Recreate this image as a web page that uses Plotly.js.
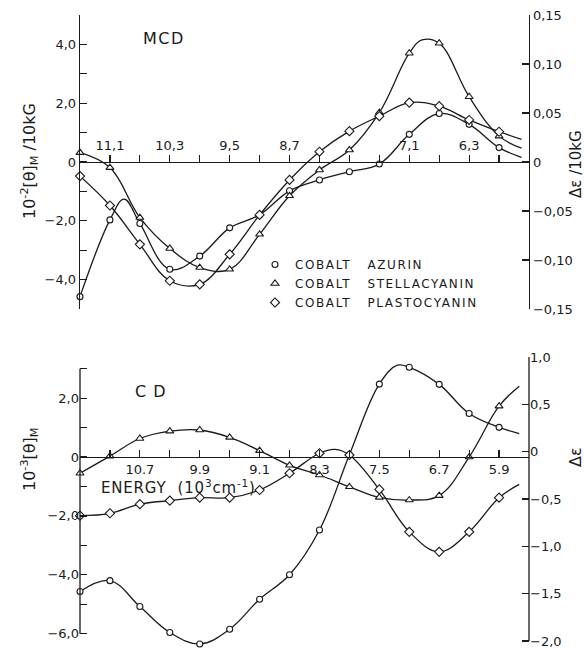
<!DOCTYPE html>
<html><head><meta charset="utf-8">
<script src="https://cdn.plot.ly/plotly-3.0.1.min.js"></script>
<style>html,body{margin:0;padding:0;background:#fff}#chart{width:584px;height:648px}</style>
</head><body><div id="chart"></div>
<script>
// Energy of the measured points (10^3 cm^-1)
const energy = [11.5, 11.1, 10.7, 10.3, 9.9, 9.5, 9.1, 8.7, 8.3, 7.9, 7.5, 7.1, 6.7, 6.3, 5.9];

// MCD panel, 10^-2 [theta]M / 10kG
const mcdAzurin        = [-4.58, -1.97, -2.09, -3.65, -3.20, -2.24, -1.80, -0.98, -0.61, -0.33, -0.07, 0.94, 1.65, 1.28, 0.49];
const mcdStellacyanin  = [0.32, -0.19, -1.89, -2.94, -3.59, -3.65, -2.46, -1.15, -0.27, 0.41, 1.68, 3.70, 4.04, 2.22, 0.88];
const mcdPlastocyanin  = [-0.48, -1.48, -2.80, -4.04, -4.16, -3.14, -1.80, -0.61, 0.35, 1.05, 1.56, 2.02, 1.90, 1.43, 1.03];
// extra points on the drawn MCD curves (peaks and curve ends, no symbol)
const mcdAzurinCurveE = [10.91, 5.6];  const mcdAzurinCurveV = [-1.26, 0.16];
const mcdStellaCurveE = [6.93, 5.6];   const mcdStellaCurveV = [4.15, 0.47];
const mcdPlastoCurveE = [5.6];         const mcdPlastoCurveV = [0.77];

// CD panel, 10^-3 [theta]M
const cdAzurin       = [-4.57, -4.20, -5.08, -5.96, -6.35, -5.85, -4.83, -4.00, -2.48, 0.08, 2.48, 3.05, 2.47, 1.48, 1.01];
const cdStellacyanin = [-0.55, 0.03, 0.63, 0.88, 0.92, 0.67, 0.22, -0.28, -0.61, -1.01, -1.37, -1.46, -1.31, 0.00, 1.73];
const cdPlastocyanin = [-1.99, -1.91, -1.60, -1.48, -1.38, -1.38, -1.12, -0.55, 0.13, 0.07, -1.10, -2.54, -3.22, -2.54, -1.38];
const cdAzurinCurveE = [7.26, 5.63];  const cdAzurinCurveV = [3.12, 0.80];
const cdStellaCurveE = [5.63];        const cdStellaCurveV = [2.41];
const cdPlastoCurveE = [8.09, 5.63];  const cdPlastoCurveV = [0.26, -0.93];

// tick values / labels
const energyTicks = [11.1, 10.7, 10.3, 9.9, 9.5, 9.1, 8.7, 8.3, 7.9, 7.5, 7.1, 6.7, 6.3, 5.9];
const mcdEnergyLabels = ["11,1", "", "10,3", "", "9,5", "", "8,7", "", "", "", "7,1", "", "6,3", ""];
const cdEnergyLabels  = ["", "10.7", "", "9.9", "", "9.1", "", "8.3", "", "7.5", "", "6.7", "", "5.9"];
const mcdLeftTicks  = [-5, -4, -3, -2, -1, 0, 1, 2, 3, 4, 5];
const mcdLeftLabels = ["", "\u22124,0", "", "\u22122,0", "", "0", "", "2,0", "", "4,0", ""];
const mcdRightTicks  = [-0.15, -0.10, -0.05, 0, 0.05, 0.10, 0.15];
const mcdRightLabels = ["\u22120,15", "\u22120,10", "\u22120,05", "0", "0,05", "0,10", "0,15"];
const cdLeftTicks  = [-6, -5, -4, -3, -2, -1, 0, 1, 2, 3];
const cdLeftLabels = ["\u22126,0", "", "\u22124,0", "", "\u22122,0", "", "0", "", "2,0", ""];
const cdRightTicks  = [-2.0, -1.5, -1.0, -0.5, 0, 0.5, 1.0];
const cdRightLabels = ["\u22122,0", "\u22121,5", "\u22121,0", "\u22120,5", "0", "0,5", "1,0"];

const seriesNames = ["COBALT\u00a0\u00a0\u00a0AZURIN", "COBALT\u00a0\u00a0\u00a0STELLACYANIN", "COBALT\u00a0\u00a0\u00a0PLASTOCYANIN"];

// ---------- layout geometry ----------
const W = 584, H = 648, L = 80, R = 55;
const PW = W - L - R;
const px = x => (x - L) / PW;
const py = y => 1 - y / H;
const topDomain = [py(309), py(15)];
const botDomain = [py(646), py(357)];
const mcdRange = [-5, 5];
const cdRange = [-6.42, 3.40];
const cdRightRange = [-2.053, 1.0];
const zeroPos = (dom, rng) => dom[0] + (dom[1] - dom[0]) * (0 - rng[0]) / (rng[1] - rng[0]);

const FONT = "DejaVu Sans, Liberation Sans, sans-serif";
const INK = "#1a1a1a";
const spaced = (t, s) => '<span style="letter-spacing:' + s + 'px">' + t + '</span>';

function merge(e, v, ce, cv) {
  const pts = e.map((x, i) => [x, v[i]]).concat(ce.map((x, i) => [x, cv[i]]));
  pts.sort((a, b) => b[0] - a[0]);
  return {x: pts.map(p => p[0]), y: pts.map(p => p[1])};
}

const symbols = ["circle", "triangle-up", "diamond"];
const sizes = [6, 7, 7];

function panelTraces(vals, curvesE, curvesV, xa, ya, legend) {
  const out = [];
  vals.forEach((v, i) => {
    const c = merge(energy, v, curvesE[i], curvesV[i]);
    out.push({x: c.x, y: c.y, xaxis: xa, yaxis: ya, mode: "lines", type: "scatter",
      line: {shape: "spline", smoothing: 1.1, color: INK, width: 1.3},
      showlegend: false, hoverinfo: "skip"});
  });
  vals.forEach((v, i) => {
    out.push({x: energy, y: v, xaxis: xa, yaxis: ya, mode: "markers", type: "scatter",
      name: spaced(seriesNames[i], 1.6), legendgroup: "g" + i, showlegend: legend, cliponaxis: false,
      marker: {symbol: symbols[i], size: sizes[i], color: "#fff", line: {color: INK, width: 1.1}}});
  });
  return out;
}

const traces = []
  .concat(panelTraces([mcdAzurin, mcdStellacyanin, mcdPlastocyanin],
    [mcdAzurinCurveE, mcdStellaCurveE, mcdPlastoCurveE],
    [mcdAzurinCurveV, mcdStellaCurveV, mcdPlastoCurveV], "x", "y", true))
  .concat(panelTraces([cdAzurin, cdStellacyanin, cdPlastocyanin],
    [cdAzurinCurveE, cdStellaCurveE, cdPlastoCurveE],
    [cdAzurinCurveV, cdStellaCurveV, cdPlastoCurveV], "x2", "y3", false));
// empty traces so the right-hand (delta epsilon) axes are drawn
traces.push({x: [], y: [], xaxis: "x", yaxis: "y2", type: "scatter", mode: "markers", showlegend: false});
traces.push({x: [], y: [], xaxis: "x2", yaxis: "y4", type: "scatter", mode: "markers", showlegend: false});

const tickFont = {family: FONT, size: 13, color: INK};
const axBase = {showgrid: false, zeroline: false, linecolor: INK, linewidth: 1.3,
  tickcolor: INK, tickwidth: 1.2, ticklen: 7, tickmode: "array", tickfont: tickFont,
  ticklabeloverflow: "allow", fixedrange: true};

const ann = (text, x, y, size, angle) => ({text: text, xref: "paper", yref: "paper",
  x: px(x), y: py(y), xanchor: "center", yanchor: "middle", showarrow: false, textangle: angle || 0,
  font: {size: size, family: FONT, color: INK}});

const layout = {
  width: W, height: H,
  margin: {l: L, r: R, t: 0, b: 0, pad: 0},
  paper_bgcolor: "#fff", plot_bgcolor: "rgba(0,0,0,0)",
  font: {family: FONT, color: INK},
  showlegend: true,
  legend: {x: px(255), y: py(250), xanchor: "left", yanchor: "top",
    bgcolor: "rgba(0,0,0,0)", font: {family: FONT, size: 12, color: INK},
    itemwidth: 30, tracegroupgap: 0},
  xaxis: Object.assign({}, axBase, {domain: [0, 1], range: [11.5, 5.5], anchor: "free",
    position: zeroPos(topDomain, mcdRange), side: "top", ticks: "outside",
    tickvals: energyTicks, ticktext: mcdEnergyLabels, showline: true}),
  yaxis: Object.assign({}, axBase, {domain: topDomain, range: mcdRange, anchor: "x",
    ticks: "inside", tickvals: mcdLeftTicks, ticktext: mcdLeftLabels, showline: true}),
  yaxis2: Object.assign({}, axBase, {overlaying: "y", side: "right", anchor: "x",
    range: [-0.15, 0.15], ticks: "inside", tickvals: mcdRightTicks, ticktext: mcdRightLabels, showline: true}),
  xaxis2: Object.assign({}, axBase, {domain: [0, 1], range: [11.5, 5.5], anchor: "free",
    position: zeroPos(botDomain, cdRange), side: "bottom", ticks: "inside",
    tickvals: energyTicks, ticktext: cdEnergyLabels, showline: true}),
  yaxis3: Object.assign({}, axBase, {domain: botDomain, range: cdRange, anchor: "x2",
    ticks: "inside", tickvals: cdLeftTicks, ticktext: cdLeftLabels, showline: false}),
  yaxis4: Object.assign({}, axBase, {overlaying: "y3", side: "right", anchor: "x2",
    range: cdRightRange, ticks: "inside", tickvals: cdRightTicks, ticktext: cdRightLabels, showline: false}),
  shapes: [
    {type: "line", xref: "x2 domain", yref: "y3", x0: 0, x1: 0, y0: -6, y1: 3,
     line: {color: INK, width: 1.3}},
    {type: "line", xref: "x2 domain", yref: "y4", x0: 1, x1: 1, y0: -2, y1: 1,
     line: {color: INK, width: 1.3}}
  ],
  annotations: [
    ann(spaced("MCD", 1.5), 164, 38, 16),
    ann(spaced("C D", 1), 151, 391, 16),
    ann(spaced("ENERGY  (10<sup>3</sup>cm<sup>-1</sup>)", 0.8), 178, 487, 15),
    ann("10<sup>-2</sup>[\u03b8]<sub>M</sub> /10kG", 29, 161, 16, -90),
    ann("10<sup>-3</sup>[\u03b8]<sub>M</sub>", 29, 460, 16, -90),
    ann("\u0394\u03b5 /10kG", 576, 164, 15, -90),
    ann("\u0394\u03b5", 575, 457, 16, -90)
  ]
};

Plotly.newPlot("chart", traces, layout, {displayModeBar: false, staticPlot: true});
</script>
</body></html>
